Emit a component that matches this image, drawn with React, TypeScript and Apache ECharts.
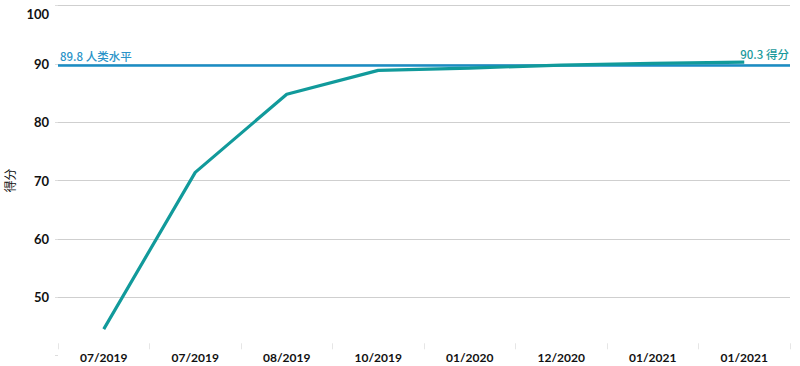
import React, { useEffect, useRef } from "react";
import * as echarts from "echarts";

const categories = ["07/2019", "07/2019", "08/2019", "10/2019", "01/2020", "12/2020", "01/2021", "01/2021"];
const scores = [44.5, 71.4, 84.8, 88.9, 89.3, 89.8, 90.1, 90.3];
const humanLevel = 89.8;
const humanLabel = "89.8 人类水平";
const scoreSuffix = " 得分";
const yTicks = [40, 50, 60, 70, 80, 90, 100];

export default function App() {
  const ref = useRef<HTMLDivElement>(null);
  useEffect(() => {
    if (!ref.current) return;
    const chart = echarts.init(ref.current, null, { renderer: "svg" });
    const yMin = yTicks[0];
    const yMax = yTicks[yTicks.length - 1];
    chart.setOption({
      animation: false,
      grid: { left: 58, right: 10, top: 5.7, bottom: 10.7, outerBoundsMode: "none", containLabel: false },
      xAxis: {
        type: "category",
        data: categories.map((_, i) => String(i)),
        boundaryGap: true,
        offset: -12,
        axisLine: { show: false },
        axisTick: { show: true, length: 6, lineStyle: { color: "#e6e6e6" } },
        axisLabel: {
          formatter: (v: string) => categories[Number(v)],
          color: "#111",
          fontFamily: "Lato",
          fontWeight: "bold",
          fontSize: 12,
          margin: 8,
        },
      },
      yAxis: {
        type: "value",
        min: yMin,
        max: yMax,
        interval: 10,
        name: "得分",
        nameLocation: "middle",
        nameGap: 33,
        nameTextStyle: { color: "#111", fontSize: 12, fontFamily: "Noto Sans CJK SC" },
        axisLine: { show: false },
        axisTick: { show: true, length: 3, lineStyle: { color: "#ddd" } },
        axisLabel: {
          formatter: (v: number) => (v === yMin ? "" : v === yMax ? "{t|" + v + "}" : String(v)),
          color: "#111",
          fontFamily: "Lato",
          fontWeight: "bold",
          fontSize: 13,
          margin: 9,
          rich: {
            t: {
              color: "#111",
              fontFamily: "Lato",
              fontWeight: "bold",
              fontSize: 13,
              padding: [16, 0, 0, 0],
            },
          },
        },
        splitLine: { show: true, showMinLine: false, lineStyle: { color: "#cfcfcf", width: 1 } },
      },
      series: [
        {
          type: "line",
          data: scores,
          symbol: "none",
          lineStyle: { color: "#119a9b", width: 3.2 },
          z: 3,
          endLabel: {
            show: true,
            formatter: (p: any) => p.value + scoreSuffix,
            offset: [-12, -8],
            color: "#1a9a9c",
            fontSize: 11.5,
            fontWeight: 500,
            fontFamily: "Noto Sans CJK SC",
          },
          markLine: {
            silent: true,
            symbol: "none",
            data: [{ yAxis: humanLevel }],
            lineStyle: { color: "#1a8dc4", width: 2.5, type: "solid" },
            label: {
              show: true,
              position: "insideStartTop",
              formatter: humanLabel,
              color: "#2a93c8",
              fontSize: 11.5,
              fontWeight: 500,
              fontFamily: "Noto Sans CJK SC",
              distance: [2, 3],
            },
            z: 2,
          },
        },
      ],
    });
    return () => chart.dispose();
  }, []);
  return <div ref={ref} style={{ width: 800, height: 366, position: "absolute", left: 0, top: 0 }} />;
}
